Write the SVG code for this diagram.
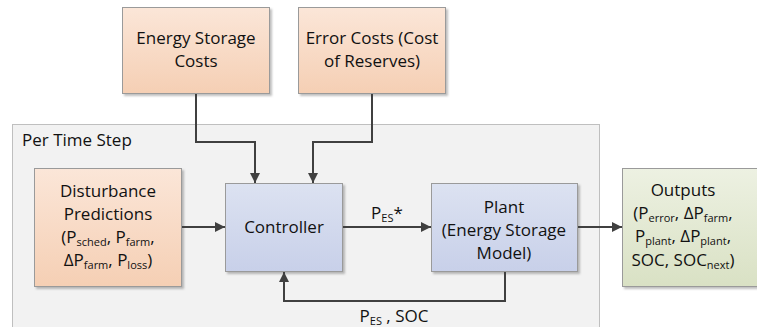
<svg xmlns="http://www.w3.org/2000/svg" width="757" height="327" viewBox="0 0 757 327">
<defs>
<linearGradient id="gOr" x1="0" y1="0" x2="0" y2="1"><stop offset="0" stop-color="#fbe6d8"/><stop offset="1" stop-color="#f5cfb4"/></linearGradient>
<linearGradient id="gBl" x1="0" y1="0" x2="0" y2="1"><stop offset="0" stop-color="#dce2f1"/><stop offset="1" stop-color="#c8d0e9"/></linearGradient>
<linearGradient id="gGr" x1="0" y1="0" x2="0" y2="1"><stop offset="0" stop-color="#edf1e2"/><stop offset="1" stop-color="#d9e1c4"/></linearGradient>
<filter id="sh" x="-10%" y="-10%" width="130%" height="130%"><feDropShadow dx="2" dy="2" stdDeviation="1" flood-color="#000" flood-opacity="0.25"/></filter>
<marker id="ah" viewBox="0 0 10 10" refX="10" refY="5" markerWidth="10" markerHeight="10" markerUnits="userSpaceOnUse" orient="auto"><path d="M0,0 L10,5 L0,10 z" fill="#404040"/></marker>
</defs>
<style>
text{font-family:"Open Sans","Liberation Sans",sans-serif;font-size:17px;fill:#111;text-anchor:middle}
.sub{font-size:11px}
.box{stroke:#9a9a9a;stroke-width:1;filter:url(#sh)}
.or{fill:url(#gOr)}
.bl{fill:url(#gBl)}
.gr{fill:url(#gGr)}
.c{fill:none;stroke:#404040;stroke-width:2}
</style>
<rect width="757" height="327" fill="#fff"/>
<g id="per-time-step">
<rect x="12.5" y="124.5" width="587" height="215" fill="#f2f2f2" stroke="#bfbfbf"/>
<text x="22" y="146" style="text-anchor:start">Per Time Step</text>
</g>
<g id="energy-storage-costs">
<rect class="box or" x="122.5" y="7.5" width="147" height="86"/>
<text x="196" y="44">Energy Storage</text>
<text x="196" y="67">Costs</text>
</g>
<g id="error-costs">
<rect class="box or" x="298.5" y="7.5" width="147" height="86"/>
<text x="372" y="44">Error Costs (Cost</text>
<text x="372" y="67">of Reserves)</text>
</g>
<g id="disturbance">
<rect class="box or" x="34.5" y="168.5" width="147" height="118"/>
<text x="108" y="197">Disturbance</text>
<text x="108" y="220">Predictions</text>
<text x="108" y="243">(P<tspan class="sub" dy="3">sched</tspan><tspan dy="-3">, P</tspan><tspan class="sub" dy="3">farm</tspan><tspan dy="-3">,</tspan></text>
<text x="108" y="266">ΔP<tspan class="sub" dy="3">farm</tspan><tspan dy="-3">, P</tspan><tspan class="sub" dy="3">loss</tspan><tspan dy="-3">)</tspan></text>
</g>
<g id="controller">
<rect class="box bl" x="225.5" y="183.5" width="117" height="88"/>
<text x="284" y="233">Controller</text>
</g>
<g id="plant">
<rect class="box bl" x="431.5" y="183.5" width="146" height="88"/>
<text x="504" y="213">Plant</text>
<text x="504" y="236">(Energy Storage</text>
<text x="504" y="259">Model)</text>
</g>
<g id="outputs">
<rect class="box gr" x="622.5" y="168.5" width="140" height="118"/>
<text x="683" y="196">Outputs</text>
<text x="683" y="219">(P<tspan class="sub" dy="3">error</tspan><tspan dy="-3">, ΔP</tspan><tspan class="sub" dy="3">farm</tspan><tspan dy="-3">,</tspan></text>
<text x="683" y="242">P<tspan class="sub" dy="3">plant</tspan><tspan dy="-3">, ΔP</tspan><tspan class="sub" dy="3">plant</tspan><tspan dy="-3">,</tspan></text>
<text x="683" y="266">SOC, SOC<tspan class="sub" dy="3">next</tspan><tspan dy="-3">)</tspan></text>
</g>
<g id="connectors">
<path class="c" d="M196,94 V142 H255 V183" marker-end="url(#ah)"/>
<path class="c" d="M372,94 V142 H313 V183" marker-end="url(#ah)"/>
<path class="c" d="M182,227 H225" marker-end="url(#ah)"/>
<path class="c" d="M343,227 H431" marker-end="url(#ah)"/>
<path class="c" d="M578,227 H622" marker-end="url(#ah)"/>
<path class="c" d="M505,272 V301 H284 V272" marker-end="url(#ah)"/>
<text x="387" y="219">P<tspan class="sub" dy="3">ES</tspan><tspan dy="-3">*</tspan></text>
<text x="394" y="322">P<tspan class="sub" dy="3">ES</tspan><tspan dy="-3"> , SOC</tspan></text>
</g>
</svg>
